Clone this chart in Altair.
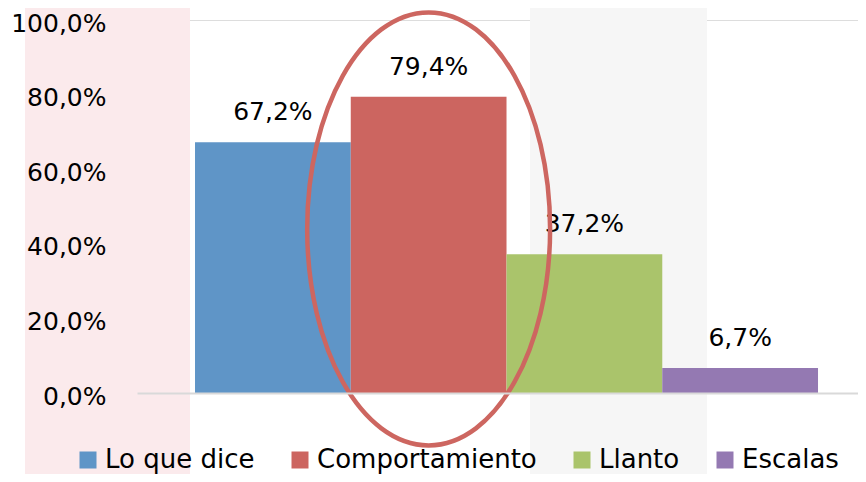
import altair as alt
import pandas as pd

categories = ["Lo que dice", "Comportamiento", "Llanto", "Escalas"]
values = [67.2, 79.4, 37.2, 6.7]
colors = ["#5F95C7", "#CC6560", "#AAC46B", "#9479B2"]
y_ticks = [0, 20, 40, 60, 80, 100]

# annotation: ellipse around the highlighted category
highlight = "Comportamiento"
highlight_center = 44.0

FONT = "DejaVu Sans"
FS = 25

df = pd.DataFrame({"cat": categories, "val": values})
ann = pd.DataFrame({"cat": [highlight], "val": [highlight_center]})

W, H = 721, 373

x_enc = alt.X("cat:N", sort=categories,
              scale=alt.Scale(paddingInner=0, paddingOuter=0.3146, align=0.592),
              axis=alt.Axis(title=None, labels=False, ticks=False, domain=True,
                            domainColor="#D9D9D9", domainWidth=2, zindex=1))
y_scale = alt.Scale(domain=[0, 100], nice=False)

# decorative faint background bands (watermark of the original slide)
one = pd.DataFrame({"a": [0]})
band_pink = alt.Chart(one).mark_rect(color="#FBEAEC").encode(
    x=alt.value(-112), x2=alt.value(53), y=alt.value(-20), y2=alt.value(462))
band_gray = alt.Chart(one).mark_rect(color="#F6F6F6").encode(
    x=alt.value(393), x2=alt.value(570), y=alt.value(-20), y2=alt.value(462))

bars = alt.Chart(df).mark_bar().encode(
    x=x_enc,
    y=alt.Y("val:Q", scale=y_scale,
            axis=alt.Axis(title=None, values=y_ticks, grid=False, ticks=False, domain=False,
                          labelExpr="replace(format(datum.value, '.1f'), '.', ',') + '%'",
                          labelFont=FONT, labelFontSize=FS, labelColor="#000000",
                          labelPadding=31, labelOffset=3, zindex=1)),
    color=alt.Color("cat:N", sort=categories,
                    scale=alt.Scale(domain=categories, range=colors),
                    legend=alt.Legend(title=None, orient="none", direction="horizontal",
                                      legendX=-62, legendY=427,
                                      symbolType="square", symbolSize=289,
                                      symbolStrokeWidth=0, symbolOpacity=1,
                                      labelFont=FONT, labelFontSize=26, labelColor="#000000",
                                      labelLimit=400,
                                      labelOffset=4, columnPadding=32, padding=0)),
)

labels = alt.Chart(df).transform_calculate(
    lab="replace(format(datum.val, '.1f'), '.', ',') + '%'"
).mark_text(font=FONT, fontSize=FS, color="#000000", baseline="alphabetic", dy=-22).encode(
    x=alt.X("cat:N", sort=categories),
    y=alt.Y("val:Q", scale=y_scale),
    text="lab:N",
)

ell_path = ("M 0 -1 C 0.310 -1 0.561 -0.5523 0.561 0 C 0.561 0.5523 0.310 1 0 1 "
            "C -0.310 1 -0.561 0.5523 -0.561 0 C -0.561 -0.5523 -0.310 -1 0 -1 Z")
ellipse = alt.Chart(ann).mark_point(
    shape=ell_path, size=433 * 433, filled=False, stroke="#CD6660", strokeWidth=4.5, opacity=1
).encode(
    x=alt.X("cat:N", sort=categories),
    y=alt.Y("val:Q", scale=y_scale),
)

chart = alt.layer(band_pink, band_gray, bars, labels, ellipse).properties(
    width=W, height=H,
    autosize=alt.AutoSizeParams(type="none"),
    padding={"left": 129, "top": 12, "right": 0, "bottom": 81},
).configure_view(stroke=None).configure(background="#FFFFFF")

chart.save("out.html", embed_options={"renderer": "svg", "actions": False})
